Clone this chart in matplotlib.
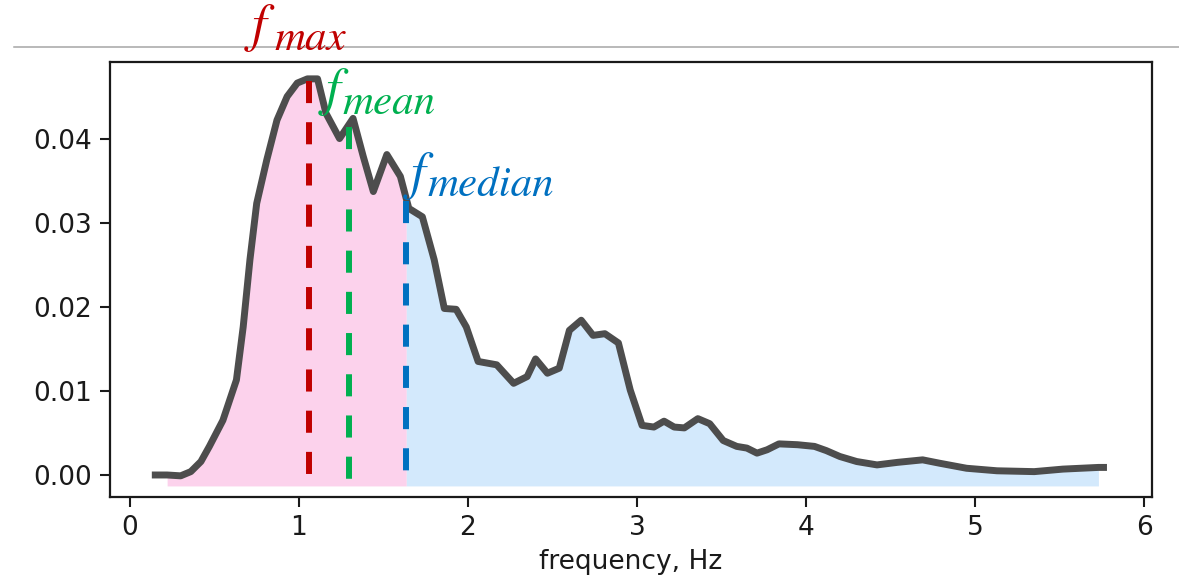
import numpy as np
import matplotlib
matplotlib.use("Agg")
from matplotlib import pyplot as plt
from matplotlib.lines import Line2D

# Power spectrum of the signal (frequency in Hz, spectral density).
freq = [0.15, 0.22, 0.30, 0.36, 0.42, 0.47, 0.55, 0.63, 0.67, 0.71,
        0.75, 0.81, 0.87, 0.93, 0.99, 1.05, 1.11, 1.16, 1.24, 1.32,
        1.38, 1.44, 1.52, 1.60, 1.65, 1.73, 1.80, 1.86, 1.93, 1.99,
        2.06, 2.17, 2.27, 2.35, 2.40, 2.47, 2.54, 2.60, 2.67, 2.74,
        2.81, 2.89, 2.96, 3.03, 3.10, 3.16, 3.22, 3.28, 3.36, 3.43,
        3.51, 3.59, 3.65, 3.71, 3.77, 3.84, 3.95, 4.05, 4.12, 4.20,
        4.30, 4.42, 4.54, 4.69, 4.79, 4.95, 5.13, 5.35, 5.52, 5.73, 5.76]
psd = [0.0000, 0.0000, -0.0001, 0.0004, 0.0016, 0.0034, 0.0065, 0.0113, 0.0176, 0.0256,
       0.0323, 0.0375, 0.0422, 0.0450, 0.0466, 0.0471, 0.0471, 0.0430, 0.0400, 0.0424,
       0.0379, 0.0337, 0.0381, 0.0355, 0.0317, 0.0307, 0.0256, 0.0198, 0.0197, 0.0176,
       0.0135, 0.0131, 0.0109, 0.0117, 0.0138, 0.0121, 0.0127, 0.0172, 0.0184, 0.0166,
       0.0168, 0.0157, 0.0101, 0.0059, 0.0057, 0.0064, 0.0057, 0.0056, 0.0067, 0.0061,
       0.0041, 0.0034, 0.0032, 0.0026, 0.0030, 0.0037, 0.0036, 0.0034, 0.0029, 0.0022,
       0.0016, 0.0012, 0.0015, 0.0018, 0.0014, 0.0008, 0.0005, 0.0004, 0.0007, 0.0009, 0.0009]

# Characteristic frequencies (Hz).
f_max = 1.057
f_mean = 1.296
f_median = 1.635

fill_base = -0.0013

freq = np.array(freq)
psd = np.array(psd)

fig = plt.figure(figsize=(11.79, 5.81), dpi=100)
ax = fig.add_axes([0.0933, 0.1454, 0.8838, 0.7484])

# Shaded areas below and above the median frequency.
x_fill = freq[1:-1]
y_fill = psd[1:-1]
xs = np.concatenate([x_fill[x_fill < f_median], [f_median]])
ys = np.concatenate([y_fill[x_fill < f_median], [np.interp(f_median, freq, psd)]])
ax.fill_between(xs, fill_base, ys, color='#fcd2ec', lw=0)
xs = np.concatenate([[f_median], x_fill[x_fill > f_median]])
ys = np.concatenate([[np.interp(f_median, freq, psd)], y_fill[x_fill > f_median]])
ax.fill_between(xs, fill_base, ys, color='#d3e9fc', lw=0)

ax.plot(freq, psd, color='#4d4d4d', lw=5, solid_joinstyle='round', zorder=3)

# Dashed markers for max, mean and median frequency.
marks = [(f_max, '#c00000'), (f_mean, '#00b050'), (f_median, '#0070c0')]
for f, c in marks:
    top = np.interp(f, freq, psd)
    ax.plot([f, f], [top - 0.0003, fill_base], color=c, lw=4.3,
            dashes=(3.7, 3.2), dash_capstyle='butt', zorder=4)

# Labels, "f" plus a lowered subscript.
labels = [(f_max, '#c00000', 'max', (-41, 27), (-24.5, 21)),
          (f_mean, '#00b050', 'mean', (-16.5, 14), (-5, 7.6)),
          (f_median, '#0070c0', 'median', (3, 7.2), (15, 1.8))]
for f, c, sub, off_f, off_s in labels:
    top = np.interp(f, freq, psd)
    ax.annotate('f', xy=(f, top), xytext=off_f, textcoords='offset points',
                fontsize=38, family='STIXGeneral', style='italic', color=c,
                ha='left', va='baseline', annotation_clip=False, zorder=5)
    ax.annotate(sub, xy=(f, top), xytext=off_s, textcoords='offset points',
                fontsize=31, family='STIXGeneral', style='italic', color=c,
                ha='left', va='baseline', annotation_clip=False, zorder=5)

ax.set_xlim(-0.118, 6.047)
ax.set_ylim(-0.00256, 0.04914)
ax.set_xticks([0, 1, 2, 3, 4, 5, 6])
ax.set_yticks([0.00, 0.01, 0.02, 0.03, 0.04])
ax.set_yticklabels(['0.00', '0.01', '0.02', '0.03', '0.04'])
ax.tick_params(labelsize=19, length=7, width=1.5, pad=6, colors='#1a1a1a')
for s in ax.spines.values():
    s.set_linewidth(1.6)
    s.set_color('#1a1a1a')
ax.set_xlabel('frequency, Hz', fontsize=19, color='#1a1a1a', labelpad=6)

# Thin rule across the top of the figure.
fig.add_artist(Line2D([0.012, 1.0], [0.9186, 0.9186], color='#a6a6a6', lw=1.1,
                      transform=fig.transFigure, zorder=0))

fig.savefig('out.png', dpi=100)
